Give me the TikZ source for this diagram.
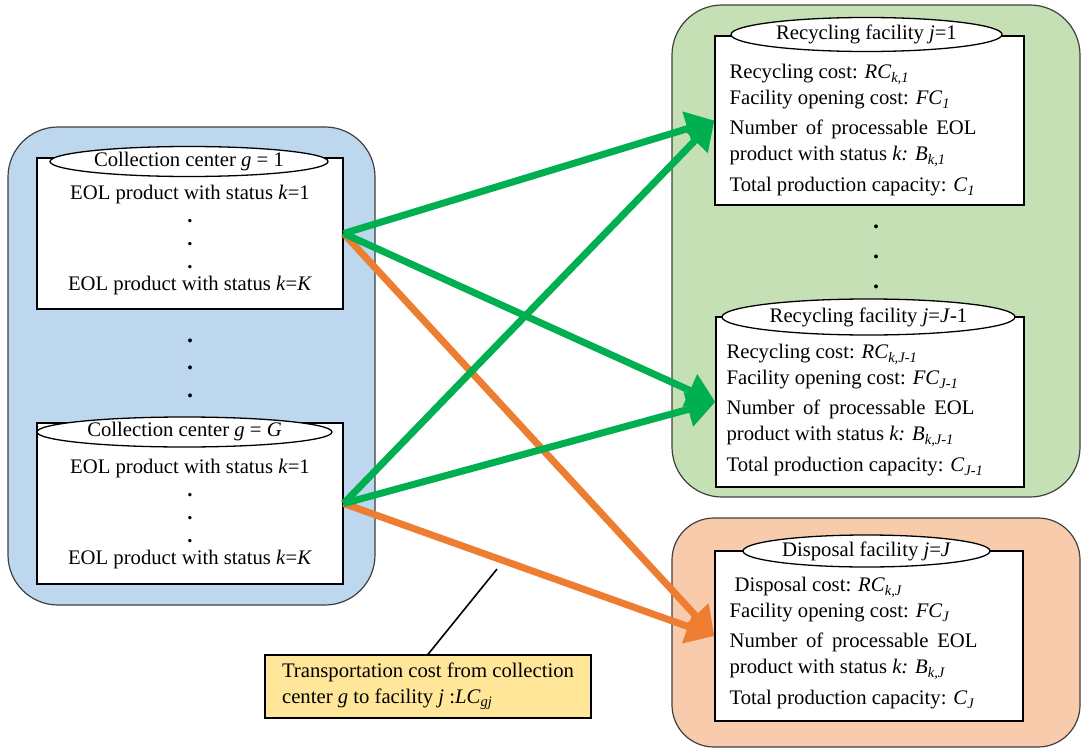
\documentclass[tikz,border=0pt]{standalone}
\usepackage{fontspec}
\setmainfont{Liberation Serif}
\usetikzlibrary{positioning,shapes.geometric,arrows.meta}

\definecolor{panelblue}{HTML}{BDD7EE}
\definecolor{panelgreen}{HTML}{C5E0B4}
\definecolor{panelorange}{HTML}{F8CBAD}
\definecolor{noteyellow}{HTML}{FFE699}
\definecolor{flowgreen}{HTML}{00B050}
\definecolor{floworange}{HTML}{ED7D31}

\newcommand{\sbi}[1]{\textsubscript{\itshape #1}}

\begin{document}
\begin{tikzpicture}[x=1pt, y=-1pt,
  font=\fontsize{20.7}{26}\selectfont,
  panel/.style={draw=black!75, line width=1.2pt, rounded corners=50pt},
  card/.style={draw, fill=white, line width=1.3pt},
  tag/.style={ellipse, draw, fill=white, line width=1.3pt, inner sep=0pt},
  txt/.style={inner sep=0pt, align=left},
  ctxt/.style={inner sep=0pt, align=center, font=\fontsize{20.7}{22.75}\selectfont},
  dots/.style={inner sep=0pt, align=center},
  flow/.style={line width=7pt, -{Triangle[length=28pt,width=34pt]}}]

\useasboundingbox (0,0) rectangle (1081,749);

% panels
\node[panel, fill=panelblue, minimum width=367pt, minimum height=478pt] (pc) at (191.5,366) {};
\node[panel, fill=panelgreen, minimum width=408pt, minimum height=492pt] (pr) at (876,251) {};
\node[panel, fill=panelorange, rounded corners=42pt, minimum width=408pt, minimum height=229pt] (pd) at (876,632.5) {};

% collection centers
\node[card, minimum width=306pt, minimum height=151pt] (c1) at (190,233.5) {};
\node[tag, minimum width=278pt, minimum height=30pt, label=center:{Collection center \textit{g} = 1}] (c1t) at (189,161.5) {};
\node[ctxt, below=28pt of c1.north] (c1x) {EOL product with status \textit{k}=1\\\textbf{.}\\\textbf{.}\\\textbf{.}\\EOL product with status \textit{k}=\textit{K}};

\node[dots, font=\fontsize{24}{27.5}\selectfont\bfseries] (cdots) at (190,368) {.\\.\\.};

\node[card, minimum width=306pt, minimum height=161pt] (cG) at (190,503.5) {};
\node[tag, minimum width=295pt, minimum height=30pt, label=center:{Collection center \textit{g} = \textit{G}}] (cGt) at (184.5,432) {};
\node[ctxt, below=37pt of cG.north] (cGx) {EOL product with status \textit{k}=1\\\textbf{.}\\\textbf{.}\\\textbf{.}\\EOL product with status \textit{k}=\textit{K}};

% recycling facilities
\node[card, minimum width=309pt, minimum height=169pt] (r1) at (869.5,120.5) {};
\node[tag, minimum width=271pt, minimum height=34pt, label=center:{Recycling facility \textit{j}=1}] (r1t) at (866.5,34.5) {};
\node[txt, below right=29pt and 15pt of r1.north west] (r1x) {Recycling cost: \textit{RC}\sbi{k,1}\\
  Facility opening cost: \textit{FC}\sbi{1}\\[4pt]
  \makebox[247pt][s]{Number of processable EOL}\\
  product with status \textit{k:} \textit{B}\sbi{k,1}\\[5pt]
  Total production capacity: \textit{C}\sbi{1}};

\node[dots, font=\fontsize{24}{30}\selectfont\bfseries] (rdots) at (876,257) {.\\.\\.};

\node[card, minimum width=308pt, minimum height=170pt] (r2) at (870,402) {};
\node[tag, minimum width=293pt, minimum height=36pt, label=center:{Recycling facility \textit{j}=\textit{J}-1}] (r2t) at (868.5,317) {};
\node[txt, below right=28pt and 11pt of r2.north west] (r2x) {Recycling cost: \textit{RC}\sbi{k,J-1}\\
  Facility opening cost: \textit{FC}\sbi{J-1}\\[4pt]
  \makebox[248pt][s]{Number of processable EOL}\\
  product with status \textit{k:} \textit{B}\sbi{k,J-1}\\[5pt]
  Total production capacity: \textit{C}\sbi{J-1}};

% disposal facility
\node[card, minimum width=308pt, minimum height=170pt] (d) at (869,636) {};
\node[tag, minimum width=247pt, minimum height=32pt, label=center:{Disposal facility \textit{j}=\textit{J}}] (dt) at (866.5,551) {};
\node[txt, below right=27pt and 15pt of d.north west] (dx) {\hspace{5pt}Disposal cost: \textit{RC}\sbi{k,J}\\
  Facility opening cost: \textit{FC}\sbi{J}\\[4pt]
  \makebox[248pt][s]{Number of processable EOL}\\
  product with status \textit{k:} \textit{B}\sbi{k,J}\\[5pt]
  Total production capacity: \textit{C}\sbi{J}};

% transport flows
\draw[flow, floworange] (c1.east) -- (d.west);
\draw[flow, floworange] (cG.east) -- (d.west);
\draw[flow, flowgreen] (c1.east) -- (r1.west);
\draw[flow, flowgreen] (c1.east) -- (r2.west);
\draw[flow, flowgreen] (cG.east) -- (r1.west);
\draw[flow, flowgreen] (cG.east) -- (r2.west);

% cost note
\node[draw, fill=noteyellow, line width=1.3pt, align=left, minimum width=326pt, minimum height=63pt] (note) at (428,686.5)
  {Transportation cost from collection\\center \textit{g} to facility \textit{j} :\textit{LC}\sbi{gj}};
\coordinate (hook) at (497,569);
\draw[line width=1.6pt] (note.north) -- (hook);

\end{tikzpicture}
\end{document}
